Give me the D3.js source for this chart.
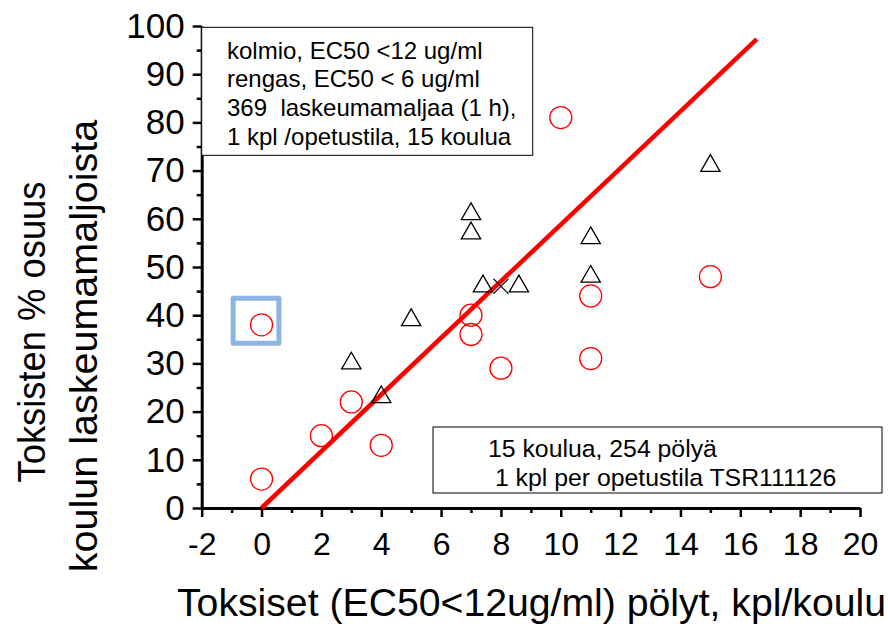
<!DOCTYPE html>
<html>
<head>
<meta charset="utf-8">
<script src="https://cdn.jsdelivr.net/npm/d3@7"></script>
<style>
  body { margin: 0; background: #fff; }
  svg { display: block; font-family: "Liberation Sans", Arial, sans-serif; }
</style>
</head>
<body>
<svg id="chart" width="888" height="626"></svg>
<script>
// triangles (kolmio, EC50 < 12 ug/ml)
const triX = [7, 7, 11, 11, 7.4, 8.6, 5, 3, 4, 15];
const triY = [61, 57, 56, 48, 46, 46, 39, 30, 23, 71];

// circles (rengas, EC50 < 6 ug/ml)
const circX = [0, 0, 2, 3, 4, 7, 7, 8, 10, 11, 11, 15];
const circY = [38, 6, 15, 22, 13, 40, 36, 29, 81, 44, 31, 48];

// single cross marker
const crossX = [8];
const crossY = [46];

// red fit line end points
const fitX = [0, 16.55];
const fitY = [0, 97.3];

// highlighted point box (data units)
const markBoxX = [-0.95, 0.58];
const markBoxY = [34.2, 43.5];

const xTickValues = [-2, 0, 2, 4, 6, 8, 10, 12, 14, 16, 18, 20];
const yTickValues = [0, 10, 20, 30, 40, 50, 60, 70, 80, 90, 100];

const noteTop = [
  "kolmio, EC50 <12 ug/ml",
  "rengas, EC50 < 6 ug/ml",
  "369  laskeumamaljaa (1 h),",
  "1 kpl /opetustila, 15 koulua"
];
const noteBottom = [
  "15 koulua, 254 pölyä",
  " 1 kpl per opetustila TSR111126"
];
const xTitle = "Toksiset (EC50<12ug/ml) pölyt, kpl/koulu";
const yTitle = ["Toksisten % osuus", "koulun laskeumamaljoista"];

const svg = d3.select("#chart");

const x = d3.scaleLinear().domain([-2, 20]).range([201.7, 860]);
const y = d3.scaleLinear().domain([0, 100]).range([508, 26]);

// minor ticks
svg.append("g")
  .attr("transform", "translate(0,508)")
  .call(d3.axisBottom(x).tickValues(d3.range(-1, 20, 2)).tickSize(5).tickFormat(""))
  .call(g => g.select(".domain").remove())
  .selectAll("line").attr("stroke-width", 2.5);

svg.append("g")
  .attr("transform", "translate(201.7,0)")
  .call(d3.axisLeft(y).tickValues(d3.range(5, 100, 10)).tickSize(5).tickFormat(""))
  .call(g => g.select(".domain").remove())
  .selectAll("line").attr("stroke-width", 2.5);

// major axes
const xAxis = svg.append("g")
  .attr("transform", "translate(0,508)")
  .call(d3.axisBottom(x).tickValues(xTickValues).tickSize(9).tickSizeOuter(0)
    .tickPadding(15).tickFormat(d => String(d)));

const yAxis = svg.append("g")
  .attr("transform", "translate(201.7,0)")
  .call(d3.axisLeft(y).tickValues(yTickValues).tickSize(9).tickSizeOuter(0)
    .tickPadding(8).tickFormat(d => String(d)));

[xAxis, yAxis].forEach(g => {
  g.select(".domain").attr("stroke-width", 3);
  g.selectAll(".tick line").attr("stroke-width", 2.5);
  g.selectAll(".tick text")
    .attr("font-family", "Liberation Sans, Arial, sans-serif")
    .attr("fill", "#000");
});
xAxis.selectAll(".tick text").attr("font-size", 32);
yAxis.selectAll(".tick text").attr("font-size", 35);

// note boxes
svg.append("rect")
  .attr("x", 201.7).attr("y", 27.3).attr("width", 331).attr("height", 128)
  .attr("fill", "#fff").attr("stroke", "#000").attr("stroke-width", 1);

svg.append("g").selectAll("text")
  .data(noteTop)
  .join("text")
  .attr("x", 227)
  .attr("y", (d, i) => 58.5 + i * 28.7)
  .attr("font-size", 24)
  .style("white-space", "pre")
  .text(d => d);

svg.append("rect")
  .attr("x", 433).attr("y", 427).attr("width", 449).attr("height", 66)
  .attr("fill", "#fff").attr("stroke", "#000").attr("stroke-width", 1);

svg.append("g").selectAll("text")
  .data(noteBottom)
  .join("text")
  .attr("x", 488)
  .attr("y", (d, i) => 457 + i * 29)
  .attr("font-size", 24.8)
  .style("white-space", "pre")
  .text(d => d);

// fit line
svg.append("line")
  .attr("x1", x(fitX[0])).attr("y1", y(fitY[0]))
  .attr("x2", x(fitX[1])).attr("y2", y(fitY[1]))
  .attr("stroke", "#ff0000")
  .attr("stroke-width", 4.5);

// triangles
const triSide = 19.3;
const triH = triSide * Math.sqrt(3) / 2;
const triPath = `M0,${-triH * 2 / 3}L${triSide / 2},${triH / 3}L${-triSide / 2},${triH / 3}Z`;

svg.append("g").selectAll("path")
  .data(triX)
  .join("path")
  .attr("d", triPath)
  .attr("transform", (d, i) => `translate(${x(d)},${y(triY[i])})`)
  .attr("fill", "none")
  .attr("stroke", "#000")
  .attr("stroke-width", 1.3);

// cross
svg.append("g").selectAll("path")
  .data(crossX)
  .join("path")
  .attr("d", "M-7.5,-7.5L7.5,7.5M7.5,-7.5L-7.5,7.5")
  .attr("transform", (d, i) => `translate(${x(d)},${y(crossY[i])})`)
  .attr("fill", "none")
  .attr("stroke", "#222")
  .attr("stroke-width", 1.3);

// circles
svg.append("g").selectAll("circle")
  .data(circX)
  .join("circle")
  .attr("cx", d => x(d))
  .attr("cy", (d, i) => y(circY[i]))
  .attr("r", 11)
  .attr("fill", "none")
  .attr("stroke", "#ff0000")
  .attr("stroke-width", 1.3);

// highlight box
svg.append("rect")
  .attr("x", x(markBoxX[0]))
  .attr("y", y(markBoxY[1]))
  .attr("width", x(markBoxX[1]) - x(markBoxX[0]))
  .attr("height", y(markBoxY[0]) - y(markBoxY[1]))
  .attr("fill", "none")
  .attr("stroke", "#8db4e2")
  .attr("stroke-width", 5)
  .attr("stroke-linejoin", "round");

// axis titles
svg.append("text")
  .attr("x", 531.5)
  .attr("y", 616)
  .attr("text-anchor", "middle")
  .attr("font-size", 39.2)
  .text(xTitle);

svg.append("text")
  .attr("transform", "translate(45,332) rotate(-90)")
  .attr("text-anchor", "middle")
  .attr("font-size", 38)
  .attr("textLength", 301)
  .attr("lengthAdjust", "spacingAndGlyphs")
  .text(yTitle[0]);

svg.append("text")
  .attr("transform", "translate(97,346) rotate(-90)")
  .attr("text-anchor", "middle")
  .attr("font-size", 39.5)
  .text(yTitle[1]);
</script>
</body>
</html>
